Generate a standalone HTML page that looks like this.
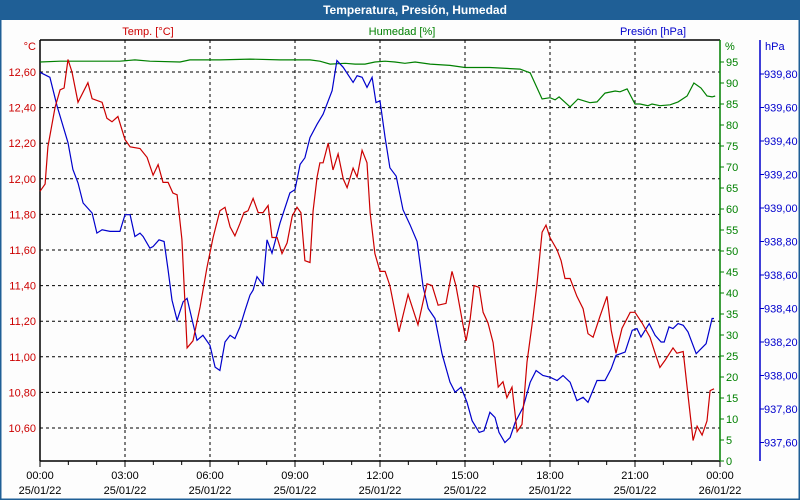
<!DOCTYPE html>
<html><head><meta charset="utf-8"><style>
html,body{margin:0;padding:0;background:#fff}
svg{display:block;font-family:"Liberation Sans",sans-serif}
</style></head><body>
<svg id="chart" width="800" height="500" xmlns="http://www.w3.org/2000/svg">
<rect x="0" y="0" width="800" height="500" fill="#fdfdfd" stroke="#1f5f96" stroke-width="3"/>
<rect x="0" y="0" width="800" height="20" fill="#1f5f96"/>
<text x="415" y="14" text-anchor="middle" font-size="12" font-weight="bold" fill="#fff">Temperatura, Presión, Humedad</text>
<text x="148" y="35" text-anchor="middle" font-size="11" fill="#cc0000">Temp. [°C]</text>
<text x="402" y="35" text-anchor="middle" font-size="11" fill="#008000">Humedad [%]</text>
<text x="653" y="35" text-anchor="middle" font-size="11" fill="#0000cc">Presión [hPa]</text>
<text x="36" y="50" text-anchor="end" font-size="11" fill="#cc0000">°C</text>
<text x="725" y="50" font-size="11" fill="#008000">%</text>
<text x="765" y="50" font-size="11" fill="#0000cc">hPa</text>
<g id="grid"></g><g id="axes"></g><g id="series"></g>
</svg>
<script>
const tempHours=[0,0.18,0.28,0.53,0.71,0.85,0.99,1.13,1.34,1.69,1.84,2.19,2.36,2.54,2.75,3.00,3.18,3.53,3.78,3.99,4.17,4.34,4.52,4.69,4.84,5.01,5.19,5.40,5.65,5.89,6.11,6.35,6.53,6.71,6.88,7.06,7.20,7.34,7.52,7.70,7.87,8.05,8.19,8.37,8.54,8.72,8.90,9.07,9.21,9.35,9.53,9.64,9.78,9.88,9.99,10.17,10.34,10.52,10.70,10.84,11.05,11.19,11.37,11.54,11.65,11.82,12.00,12.18,12.35,12.67,12.99,13.34,13.66,13.84,14.05,14.33,14.54,14.68,14.93,15.04,15.18,15.32,15.50,15.64,15.81,15.99,16.17,16.34,16.48,16.66,16.84,17.01,17.19,17.40,17.54,17.72,17.86,18.00,18.25,18.39,18.53,18.71,18.95,19.17,19.34,19.52,19.77,20.01,20.16,20.33,20.54,20.83,21.00,21.25,21.53,21.71,21.88,22.06,22.34,22.48,22.70,22.84,23.05,23.19,23.37,23.54,23.65,23.79];
const tempValues=[11.93,11.97,12.18,12.40,12.50,12.51,12.67,12.60,12.43,12.54,12.45,12.43,12.34,12.32,12.35,12.22,12.18,12.17,12.12,12.02,12.08,11.98,11.98,11.92,11.91,11.66,11.05,11.09,11.28,11.50,11.67,11.82,11.84,11.73,11.68,11.75,11.81,11.82,11.89,11.81,11.81,11.85,11.67,11.67,11.58,11.64,11.79,11.84,11.81,11.54,11.53,11.82,12.01,12.09,12.09,12.20,12.05,12.14,12.00,11.95,12.06,12.01,12.16,12.09,11.81,11.58,11.48,11.48,11.40,11.14,11.35,11.18,11.41,11.40,11.29,11.30,11.48,11.40,11.18,11.09,11.21,11.40,11.39,11.25,11.19,11.08,10.83,10.86,10.77,10.83,10.58,10.62,10.97,11.22,11.41,11.70,11.74,11.67,11.60,11.54,11.44,11.44,11.34,11.27,11.13,11.11,11.23,11.34,11.15,11.02,11.16,11.25,11.25,11.19,11.11,11.02,10.94,10.98,11.05,11.02,11.03,10.83,10.53,10.61,10.56,10.64,10.81,10.82];
const presHours=[0,0.35,0.60,0.99,1.16,1.34,1.52,1.84,2.01,2.19,2.47,2.82,3.00,3.18,3.35,3.53,3.64,3.88,3.99,4.20,4.38,4.52,4.66,4.84,5.05,5.19,5.37,5.54,5.75,6.00,6.18,6.35,6.53,6.71,6.88,7.06,7.24,7.41,7.52,7.66,7.87,8.01,8.19,8.47,8.82,9.00,9.18,9.35,9.53,9.78,9.99,10.31,10.48,10.70,11.05,11.19,11.37,11.54,11.72,11.86,12.00,12.18,12.35,12.57,12.81,13.06,13.31,13.52,13.70,13.94,14.19,14.47,14.65,14.86,15.07,15.25,15.50,15.67,15.88,16.06,16.20,16.41,16.59,16.77,17.05,17.30,17.51,17.75,18.00,18.25,18.46,18.71,18.95,19.17,19.34,19.66,19.94,20.16,20.33,20.65,20.90,21.07,21.21,21.50,21.71,21.92,22.03,22.20,22.34,22.52,22.70,22.87,23.16,23.51,23.72,23.79];
const presValues=[939.81,939.78,939.61,939.39,939.23,939.15,939.03,938.97,938.85,938.87,938.86,938.86,938.96,938.96,938.83,938.85,938.83,938.76,938.77,938.81,938.80,938.63,938.45,938.33,938.44,938.46,938.33,938.21,938.24,938.18,938.05,938.03,938.20,938.24,938.22,938.29,938.39,938.48,938.51,938.59,938.54,938.81,938.73,938.91,939.09,939.11,939.26,939.30,939.42,939.50,939.56,939.70,939.88,939.84,939.75,939.79,939.78,939.72,939.78,939.63,939.64,939.42,939.24,939.19,938.99,938.90,938.80,938.53,938.40,938.34,938.13,937.96,937.90,937.93,937.84,937.73,937.66,937.67,937.78,937.75,937.66,937.60,937.63,937.72,937.81,937.96,938.03,938.00,937.99,937.97,938.00,937.96,937.85,937.87,937.84,937.97,937.97,938.04,938.12,938.14,938.27,938.28,938.23,938.31,938.24,938.20,938.20,938.29,938.28,938.31,938.30,938.26,938.13,938.19,938.34,938.34];
const humHours=[0,0.71,1.76,2.82,3.35,3.88,4.94,5.29,6.35,7.41,8.47,9.00,9.53,9.88,10.24,10.77,11.12,11.47,11.82,12.18,12.53,12.88,13.24,13.77,14.47,15.00,15.88,16.94,17.30,17.72,18.00,18.18,18.32,18.71,18.99,19.41,19.66,19.94,20.30,20.47,20.72,21.00,21.18,21.46,21.60,21.88,22.24,22.52,22.84,23.08,23.33,23.54,23.72,23.83];
const humValues=[95.0,95.2,95.2,95.2,95.5,95.2,95.0,95.5,95.5,95.7,95.5,95.5,95.5,95.2,94.5,94.7,94.5,94.5,95.0,95.2,95.0,94.7,95.0,94.5,94.2,93.7,93.7,93.3,92.4,86.2,86.5,86.0,86.7,84.3,86.2,85.3,85.5,87.6,88.1,87.9,88.6,85.0,85.0,84.6,85.0,84.6,84.8,85.5,86.9,90.0,88.8,86.9,86.7,86.9];
const xTickLabels=["00:00","03:00","06:00","09:00","12:00","15:00","18:00","21:00","00:00"];
const xDateLabels=["25/01/22","25/01/22","25/01/22","25/01/22","25/01/22","25/01/22","25/01/22","25/01/22","26/01/22"];
const tempTicks=[12.6,12.4,12.2,12.0,11.8,11.6,11.4,11.2,11.0,10.8,10.6];
const humTicks=[0,5,10,15,20,25,30,35,40,45,50,55,60,65,70,75,80,85,90,95];
const presTicks=[939.8,939.6,939.4,939.2,939.0,938.8,938.6,938.4,938.2,938.0,937.8,937.6];

const NS="http://www.w3.org/2000/svg";
const X0=40,X1=720,Y0=40,Y1=461;
const xS=h=>X0+h*(X1-X0)/24;
const tS=t=>72+(12.6-t)*178;
const hS=v=>461-v*4.2;
const pS=p=>74+(939.8-p)*167.5;
const fmt=(v,d)=>v.toFixed(d).replace('.',',');
function mk(tag,attrs,parent){const e=document.createElementNS(NS,tag);for(const k in attrs)e.setAttribute(k,attrs[k]);parent.appendChild(e);return e;}
const grid=document.getElementById('grid'),axes=document.getElementById('axes'),series=document.getElementById('series');

tempTicks.forEach((t,i)=>{
  const y=tS(t);
  const l=mk('line',{x1:X0,x2:X1,y1:y,y2:y,stroke:'#000','stroke-dasharray':'3,3','stroke-width':1},grid);
  
  
  const tx=mk('text',{x:36,y:y+4,'text-anchor':'end','font-size':11,fill:'#cc0000'},axes);
  tx.textContent=fmt(t,2);
  
  
});
xTickLabels.forEach((lab,i)=>{
  const x=xS(i*3);
  if(i>0&&i<8){
    const l=mk('line',{x1:x,x2:x,y1:Y0,y2:Y1,stroke:'#000','stroke-dasharray':'3,3'},grid);
    
    
  }
  const t1=mk('text',{x:x,y:479,'text-anchor':'middle','font-size':11,fill:'#000'},axes);
  t1.textContent=lab;
  
  
  const t2=mk('text',{x:x,y:494,'text-anchor':'middle','font-size':11,fill:'#000'},axes);
  t2.textContent=xDateLabels[i];
  
  
});
for(let h=0;h<=24;h++){
  const x=xS(h);
  const l=mk('line',{x1:x,x2:x,y1:Y1,y2:Y1+(h%3===0?6:4),stroke:'#000'},axes);
  
  
}
humTicks.forEach(v=>{
  const y=hS(v);
  const l=mk('line',{x1:X1,x2:X1+4,y1:y,y2:y,stroke:'#008000'},axes);
  
  
  const tx=mk('text',{x:X1+6,y:y+4,'font-size':11,fill:'#008000'},axes);
  tx.textContent=String(v);
  
  
});
presTicks.forEach(p=>{
  const y=pS(p);
  const l=mk('line',{x1:760,x2:764,y1:y,y2:y,stroke:'#0000cc'},axes);
  
  
  const tx=mk('text',{x:764,y:y+4,'font-size':11,fill:'#0000cc'},axes);
  tx.textContent=fmt(p,2);
  
  
});
let a;
a=mk('line',{x1:X0,x2:X1,y1:Y0,y2:Y0,stroke:'#000','stroke-width':1.5},axes);

a=mk('line',{x1:X0,x2:X0,y1:Y0,y2:Y1,stroke:'#000','stroke-width':1.5},axes);

a=mk('line',{x1:X0,x2:X1,y1:Y1,y2:Y1,stroke:'#000','stroke-width':1.5},axes);

a=mk('line',{x1:X1,x2:X1,y1:Y0,y2:Y1,stroke:'#008000','stroke-width':1.5},axes);

a=mk('line',{x1:760,x2:760,y1:Y0,y2:Y1,stroke:'#0000cc','stroke-width':1.5},axes);


function line(hours,vals,sc,color,name){
  const pts=hours.map((h,i)=>xS(h).toFixed(1)+','+sc(vals[i]).toFixed(1)).join(' ');
  const p=mk('polyline',{points:pts,fill:'none',stroke:color,'stroke-width':1.2},series);
  
  
}
line(humHours,humValues,hS,'#008000','humidity-line');
line(presHours,presValues,pS,'#0000cc','pressure-line');
line(tempHours,tempValues,tS,'#cc0000','temperature-line');
</script>
</body></html>
